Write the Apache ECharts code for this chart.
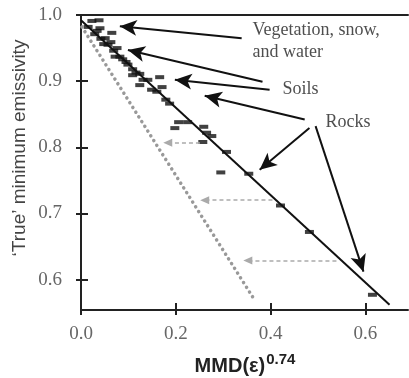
<!DOCTYPE html>
<html>
<head>
<meta charset="utf-8">
<script src="https://cdn.jsdelivr.net/npm/echarts@6/dist/echarts.min.js"></script>
<style>
html, body { margin: 0; padding: 0; background: #fff; }
#chart { width: 409px; height: 378px; }
</style>
</head>
<body>
<div id="chart"></div>
<script>
// tick values
var xTicks = [0, 0.2, 0.4, 0.6];
var yTicks = [0.6, 0.7, 0.8, 0.9, 1.0];

// measured samples [MMD^0.74, true min emissivity]
var samples = [
    [0.023, 0.991], [0.038, 0.992], [0.040, 0.980], [0.065, 0.973], [0.051, 0.965],
    [0.015, 0.982], [0.029, 0.971], [0.042, 0.964], [0.057, 0.955], [0.069, 0.946],
    [0.082, 0.937], [0.095, 0.929], [0.109, 0.918], [0.048, 0.956], [0.076, 0.950],
    [0.063, 0.959], [0.072, 0.937], [0.099, 0.925], [0.109, 0.909], [0.124, 0.894],
    [0.141, 0.902], [0.166, 0.906], [0.171, 0.891], [0.179, 0.872], [0.131, 0.902],
    [0.149, 0.887], [0.206, 0.838], [0.198, 0.829], [0.225, 0.838], [0.259, 0.831],
    [0.265, 0.822], [0.257, 0.808], [0.276, 0.817], [0.307, 0.793], [0.295, 0.762],
    [0.354, 0.760], [0.421, 0.712], [0.482, 0.672], [0.615, 0.577], [0.187, 0.866],
    [0.160, 0.884], [0.124, 0.911], [0.034, 0.976], [0.088, 0.933], [0.116, 0.913]
];

// regression line and lower (dotted) line
var fitLine = [[0.0, 0.992], [0.651, 0.562]];
var lowerLine = [[0.002, 0.982], [0.362, 0.574]];

// annotation arrows [x1, y1, x2, y2]
var greyArrows = [
    [0.251, 0.807, 0.183, 0.807],
    [0.404, 0.720, 0.261, 0.720],
    [0.539, 0.629, 0.352, 0.629]
];
var blackArrows = [
    [0.339, 0.965, 0.082, 0.983],
    [0.383, 0.899, 0.099, 0.947],
    [0.398, 0.887, 0.198, 0.902],
    [0.472, 0.842, 0.261, 0.878],
    [0.482, 0.829, 0.377, 0.766],
    [0.495, 0.832, 0.596, 0.612]
];

// annotation texts [text, x, y]
var notes = [
    ['Vegetation, snow,', 0.362, 0.977],
    ['and water', 0.362, 0.944],
    ['Soils', 0.425, 0.887],
    ['Rocks', 0.516, 0.838]
];

function arrowData(list) {
    return list.map(function (a) {
        return [{coord: [a[0], a[1]]}, {coord: [a[2], a[3]]}];
    });
}

var serif = '"Liberation Serif", "DejaVu Serif", serif';
var sans = '"Liberation Sans", Arial, sans-serif';

var option = {
    animation: false,
    grid: {left: 81, right: 1, top: 15, bottom: 68},
    xAxis: [
        {
            type: 'value', min: 0, max: 0.69, position: 'bottom',
            splitLine: {show: false},
            axisLine: {lineStyle: {color: '#222', width: 2}},
            axisTick: {inside: true, length: 7, customValues: xTicks, lineStyle: {color: '#222', width: 2}},
            axisLabel: {
                customValues: xTicks, margin: 15,
                fontFamily: serif, fontSize: 19, color: '#666',
                formatter: function (v) { return v.toFixed(1); }
            }
        },
        {
            type: 'value', min: 0, max: 0.69, position: 'bottom',
            splitLine: {show: false},
            axisLine: {show: false},
            axisTick: {inside: false, length: 5, customValues: xTicks, lineStyle: {color: '#222', width: 2}},
            axisLabel: {show: false}
        },
        {
            type: 'value', min: 0, max: 0.69, position: 'top',
            splitLine: {show: false},
            axisLine: {lineStyle: {color: '#222', width: 2}},
            axisTick: {show: false},
            axisLabel: {show: false}
        }
    ],
    yAxis: [
        {
            type: 'value', min: 0.554, max: 1.0, position: 'left',
            splitLine: {show: false},
            axisLine: {lineStyle: {color: '#222', width: 2}},
            axisTick: {inside: true, length: 7, customValues: yTicks, lineStyle: {color: '#222', width: 2}},
            axisLabel: {
                customValues: yTicks, margin: 19,
                fontFamily: serif, fontSize: 19, color: '#666',
                formatter: function (v) { return v.toFixed(1); }
            }
        },
        {
            type: 'value', min: 0.554, max: 1.0, position: 'left',
            splitLine: {show: false},
            axisLine: {show: false},
            axisTick: {inside: false, length: 5, customValues: yTicks, lineStyle: {color: '#222', width: 2}},
            axisLabel: {show: false}
        }
    ],
    graphic: [
        {
            type: 'text', x: 20, y: 148, rotation: Math.PI / 2,
            style: {
                text: '\u2018True\u2019 minimum emissivity',
                font: '19px ' + sans, fill: '#444',
                align: 'center', verticalAlign: 'middle'
            }
        },
        {
            type: 'text', x: 245, y: 366,
            style: {
                text: '{b|MMD(\u03b5)}{s|0.74}',
                align: 'center', verticalAlign: 'middle',
                rich: {
                    b: {fontFamily: sans, fontWeight: 'bold', fontSize: 20, fill: '#222'},
                    s: {fontFamily: sans, fontWeight: 'bold', fontSize: 15, fill: '#222', padding: [0, 0, 12, 1]}
                }
            }
        }
    ],
    series: [
        {
            type: 'line', data: lowerLine, symbol: 'none',
            lineStyle: {color: '#999', width: 3.5, type: [0.1, 5.5], cap: 'round'}
        },
        {
            type: 'line', data: fitLine, symbol: 'none',
            lineStyle: {color: '#111', width: 2}
        },
        {
            type: 'scatter', data: samples,
            symbol: 'rect', symbolSize: [9, 4],
            itemStyle: {color: '#111'}
        },
        {
            type: 'line', data: [], symbol: 'none',
            markLine: {
                silent: true, animation: false,
                symbol: ['none', 'triangle'], symbolSize: [8, 9],
                label: {show: false},
                lineStyle: {color: '#aaa', width: 1.5, type: [4, 3]},
                data: arrowData(greyArrows)
            }
        },
        {
            type: 'line', data: [], symbol: 'none',
            markLine: {
                silent: true, animation: false,
                symbol: ['none', 'arrow'], symbolSize: [12, 17],
                label: {show: false},
                lineStyle: {color: '#111', width: 2, type: 'solid'},
                data: arrowData(blackArrows)
            }
        },
        {
            type: 'scatter', symbolSize: 0,
            data: notes.map(function (n) { return {name: n[0], value: [n[1], n[2]]}; }),
            label: {
                show: true, position: 'right', distance: 0, formatter: '{b}',
                fontFamily: serif, fontSize: 18, color: '#222'
            }
        }
    ]
};

var myChart = echarts.init(document.getElementById('chart'));
myChart.setOption(option);
</script>
</body>
</html>
